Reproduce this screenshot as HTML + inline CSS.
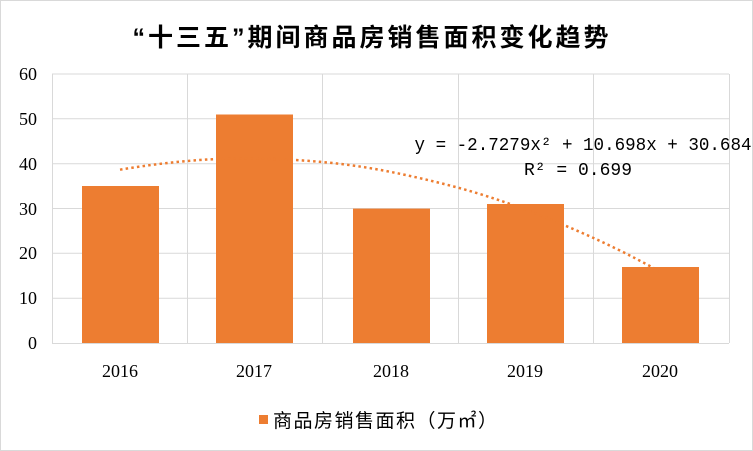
<!DOCTYPE html>
<html><head><meta charset="utf-8"><style>
body{margin:0;background:#fff}
svg{display:block}
</style></head><body>
<svg width="753" height="451" xmlns="http://www.w3.org/2000/svg">
<rect x="0.5" y="0.5" width="752" height="450" fill="#fff" stroke="#d9d9d9"/>
<text x="372" y="46" text-anchor="middle" font-family="'Liberation Sans','Noto Sans CJK SC',sans-serif" font-size="25" font-weight="bold" letter-spacing="3" fill="#000">“十三五”期间商品房销售面积变化趋势</text>
<g stroke="#d9d9d9" stroke-width="1">
<line x1="52" y1="74" x2="729" y2="74"/>
<line x1="52" y1="118.8" x2="729" y2="118.8"/>
<line x1="52" y1="163.7" x2="729" y2="163.7"/>
<line x1="52" y1="208.5" x2="729" y2="208.5"/>
<line x1="52" y1="253.3" x2="729" y2="253.3"/>
<line x1="52" y1="298.2" x2="729" y2="298.2"/>
<line x1="52.5" y1="74" x2="52.5" y2="343"/>
<line x1="187.5" y1="74" x2="187.5" y2="343"/>
<line x1="322.5" y1="74" x2="322.5" y2="343"/>
<line x1="458.5" y1="74" x2="458.5" y2="343"/>
<line x1="593.5" y1="74" x2="593.5" y2="343"/>
<line x1="729.5" y1="74" x2="729.5" y2="343"/>
<line x1="52" y1="343.5" x2="729" y2="343.5"/>
</g>
<g fill="#ed7d31">
<rect x="82" y="186" width="77" height="157"/>
<rect x="216" y="114.5" width="77" height="228.5"/>
<rect x="353" y="208.6" width="77" height="134.4"/>
<rect x="487" y="204" width="77" height="139"/>
<rect x="622" y="267" width="77" height="76"/>
</g>
<path d="M120,169.7 Q153.7,164 187.3,161 T254.7,158.5 T322.1,162 T389.6,171.7 T457,187.4 T524.5,209.3 T592,237.3 T659.4,271.3" fill="none" stroke="#ed7d31" stroke-width="2.5" stroke-dasharray="2.5 3.2"/>
<g font-family="'Liberation Serif',serif" font-size="18" fill="#000" text-anchor="end">
<text x="37" y="80">60</text><text x="37" y="125">50</text><text x="37" y="170">40</text>
<text x="37" y="215">30</text><text x="37" y="259">20</text><text x="37" y="304">10</text><text x="37" y="349">0</text>
</g>
<g font-family="'Liberation Serif',serif" font-size="18" fill="#000" text-anchor="middle">
<text x="120" y="377">2016</text><text x="254" y="377">2017</text><text x="391" y="377">2018</text>
<text x="525" y="377">2019</text><text x="660" y="377">2020</text>
</g>
<g font-family="'Liberation Mono',monospace" font-size="18" fill="#000" text-anchor="middle">
<text x="583" y="150" textLength="337" lengthAdjust="spacingAndGlyphs">y = -2.7279x² + 10.698x + 30.684</text>
<text x="578" y="175">R² = 0.699</text>
</g>
<rect x="259" y="415" width="9" height="9" fill="#ed7d31"/>
<text x="273" y="427" font-family="'Liberation Sans','Noto Sans CJK SC',sans-serif" font-size="19" letter-spacing="1.5" fill="#000">商品房销售面积（万㎡）</text>
</svg>
</body></html>
